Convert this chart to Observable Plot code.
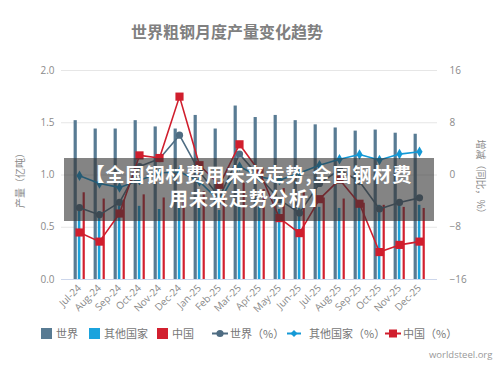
<!DOCTYPE html>
<html><head><meta charset="utf-8">
<script src="https://cdn.jsdelivr.net/npm/d3@7"></script>
<script src="https://cdn.jsdelivr.net/npm/@observablehq/plot@0.6"></script>
<style>
body{margin:0;background:#fff;}
#wrap{position:relative;width:500px;height:380px;overflow:hidden;font-family:"Noto Sans CJK SC","Noto Sans",sans-serif;}
#chart{position:absolute;left:0;top:0;}
#title{position:absolute;left:0;top:22px;width:454px;text-align:center;font-size:16px;font-weight:700;color:#808080;line-height:18px;}
.ax{position:absolute;font-size:10px;color:#8a8a8a;white-space:nowrap;line-height:12px;}
#banner{position:absolute;left:64px;top:158px;width:370px;height:63px;background:rgba(50,50,50,0.6);color:#fff;font-weight:700;font-size:19px;text-align:center;padding-top:4px;box-sizing:border-box;letter-spacing:1px;}
#banner div{height:24px;line-height:24px;overflow:visible;white-space:nowrap;}
.lg{position:absolute;top:327px;font-size:11px;color:#777;line-height:12px;white-space:nowrap;}
#source{position:absolute;left:429px;top:348px;font-size:9.5px;color:#999;font-family:"Open Sans",sans-serif;}
</style></head><body>
<div id="wrap">
  <div id="chart"></div>
  <div id="title">世界粗钢月度产量变化趋势</div>
  <div class="ax" id="lab-left" style="left:20px;top:178px;transform:translate(-50%,-50%) rotate(-90deg);">产量（亿吨）</div>
  <div class="ax" id="lab-right" style="left:481px;top:179px;transform:translate(-50%,-50%) rotate(90deg);">增减（同比，%）</div>
  <div id="legend"></div>
  <div id="source">worldsteel.org</div>
  <div id="banner"><div>【全国钢材费用未来走势,全国钢材费</div><div>用未来走势分析】</div></div>
</div>
<script>
const months = ["Jul-24","Aug-24","Sep-24","Oct-24","Nov-24","Dec-24","Jan-25","Feb-25","Mar-25","Apr-25","May-25","Jun-25","Jul-25","Aug-25","Sep-25","Oct-25","Nov-25","Dec-25"];
const world  = [1.52,1.44,1.44,1.52,1.46,1.44,1.57,1.44,1.66,1.55,1.57,1.52,1.48,1.45,1.42,1.43,1.40,1.39];
const others = [0.67,0.65,0.70,0.70,0.67,0.68,0.69,0.66,0.72,0.69,0.67,0.68,0.69,0.68,0.70,0.71,0.71,0.71];
const china  = [0.83,0.77,0.76,0.81,0.78,0.76,0.84,0.80,0.92,0.86,0.87,0.83,0.78,0.77,0.73,0.71,0.69,0.68];
const worldPct  = [-5.0,-6.1,-4.2,1.3,2.5,6.1,0.5,-3.4,3.2,-0.3,-3.8,-5.8,-1.3,0.8,-1.0,-5.2,-4.2,-3.5];
const othersPct = [-0.1,-1.3,-1.9,-0.8,0.3,0.5,-1.0,-4.0,1.3,-0.3,-0.8,0.3,1.5,2.4,3.15,2.3,3.2,3.55];
const chinaPct  = [-8.8,-10.2,-5.9,3.0,2.6,12.0,1.5,-1.5,4.7,0.5,-6.6,-8.9,-3.7,-0.7,-4.4,-11.8,-10.7,-10.2];
const leftTicks = [0,0.5,1,1.5,2];
const rightTicks = [-16,-8,0,8,16];

const C = {world:"#587b93", others:"#1ba3dd", china:"#d2202f", worldLine:"#4e6c82", othersLine:"#1499d6", chinaLine:"#d01e2d"};
const toLeft = p => (p + 16) / 16;
const fromLeft = v => Math.round(v * 16 - 16);
const rows = months.map((m, i) => ({month: m, world: world[i], others: others[i], china: china[i],
  worldPct: worldPct[i], othersPct: othersPct[i], chinaPct: chinaPct[i]}));

const chart = Plot.plot({
  width: 500, height: 380,
  marginTop: 70, marginBottom: 101, marginLeft: 61, marginRight: 63,
  style: {fontFamily: "'Open Sans', sans-serif", background: "transparent"},
  x: {type: "band", domain: months, padding: 0, label: null},
  y: {domain: [0, 2], label: null},
  marks: [
    Plot.gridY(leftTicks, {stroke: "#e6e6e6", strokeOpacity: 1}),
    Plot.axisY(leftTicks, {tickFormat: d3.format(".1f"), tickSize: 0, tickPadding: 7, fill: "#8a8a8a", fontSize: 10, label: null, letterSpacing: "1px"}),
    Plot.axisY(rightTicks.map(toLeft), {anchor: "right", tickFormat: v => { const n = fromLeft(v); return n < 0 ? "\u2212" + Math.abs(n) : String(n); }, tickSize: 0, tickPadding: 12, fill: "#8a8a8a", fontSize: 10, label: null, textAnchor: "start"}),
    Plot.barY(rows, {x: "month", y: "world", fill: C.world, insetLeft: 4.6, insetRight: 12.2}),
    Plot.barY(rows, {x: "month", y: "others", fill: C.others, insetLeft: 8.8, insetRight: 8.6}),
    Plot.barY(rows, {x: "month", y: "china", fill: C.china, insetLeft: 13.6, insetRight: 4.2}),
    Plot.ruleY([0], {stroke: "#ccd6eb", strokeWidth: 1}),
    Plot.axisX({tickRotate: -45, tickSize: 0, tickPadding: 7, fill: "#8a8a8a", fontSize: 10, label: null}),
    Plot.line(rows, {x: "month", y: d => toLeft(d.worldPct), stroke: C.worldLine, strokeWidth: 1.6}),
    Plot.dot(rows, {x: "month", y: d => toLeft(d.worldPct), r: 3.6, fill: C.worldLine, symbol: "circle"}),
    Plot.line(rows, {x: "month", y: d => toLeft(d.othersPct), stroke: C.othersLine, strokeWidth: 1.6}),
    Plot.dot(rows, {x: "month", y: d => toLeft(d.othersPct), r: 3.2, fill: C.othersLine, symbol: "diamond"}),
    Plot.line(rows, {x: "month", y: d => toLeft(d.chinaPct), stroke: C.chinaLine, strokeWidth: 1.6}),
    Plot.dot(rows, {x: "month", y: d => toLeft(d.chinaPct), r: 4.6, fill: C.chinaLine, symbol: "square"})
  ]
});
document.getElementById("chart").appendChild(chart);

// legend
const legendItems = [
  {label: "世界", color: C.world, kind: "box", x: 41},
  {label: "其他国家", color: C.others, kind: "box", x: 89},
  {label: "中国", color: C.china, kind: "box", x: 157},
  {label: "世界（%）", color: C.worldLine, kind: "circle", x: 212},
  {label: "其他国家（%）", color: C.othersLine, kind: "diamond", x: 287},
  {label: "中国（%）", color: C.chinaLine, kind: "square", x: 385}
];
const lg = document.getElementById("legend");
for (const it of legendItems) {
  const el = document.createElement("div");
  el.className = "lg";
  el.style.left = it.x + "px";
  let icon;
  if (it.kind === "box") {
    icon = `<svg width="11" height="11" style="vertical-align:-1px;margin-right:4px"><rect width="11" height="11" fill="${it.color}"/></svg>`;
  } else {
    const w = it.kind === "diamond" ? 14 : 16;
    let mk;
    if (it.kind === "circle") mk = `<circle cx="${w/2}" cy="5.5" r="3.6" fill="${it.color}"/>`;
    else if (it.kind === "diamond") mk = `<path d="M${w/2},2 L${w/2+3.5},5.5 L${w/2},9 L${w/2-3.5},5.5Z" fill="${it.color}"/>`;
    else mk = `<rect x="${w/2-4}" y="1.5" width="8" height="8" fill="${it.color}"/>`;
    icon = `<svg width="${w}" height="11" style="vertical-align:-1px;margin-right:${it.kind==='diamond'?8:2}px"><line x1="0" x2="${w}" y1="5.5" y2="5.5" stroke="${it.color}" stroke-width="2"/>${mk}</svg>`;
  }
  el.innerHTML = icon + it.label;
  lg.appendChild(el);
}
</script>
</body></html>
